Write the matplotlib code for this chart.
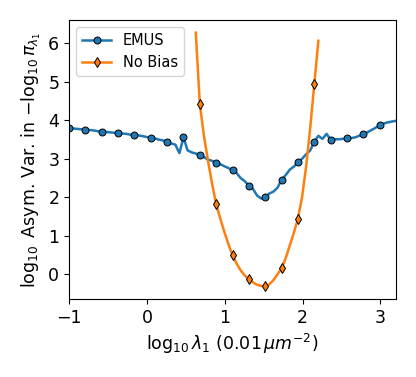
import matplotlib
matplotlib.use("Agg")
import matplotlib.pyplot as plt
import numpy as np

plt.rcParams['font.size'] = 12.5

# x grid in log10(lambda_1), 81 points from -1 to 3.2
log_lambda = np.linspace(-1.0, 3.2, 81)

# EMUS asymptotic variance (log10)
emus = [3.80, 3.79, 3.78, 3.77, 3.76, 3.75, 3.74, 3.72, 3.71, 3.70,
        3.69, 3.68, 3.67, 3.66, 3.65, 3.63, 3.62, 3.61, 3.59, 3.57,
        3.55, 3.53, 3.50, 3.48, 3.45, 3.40, 3.37, 3.15, 3.56, 3.22,
        3.17, 3.14, 3.10, 3.05, 2.98, 2.95, 2.90, 2.86, 2.81, 2.76,
        2.71, 2.63, 2.50, 2.42, 2.30, 2.22, 2.05, 1.97, 2.00, 2.10,
        2.15, 2.25, 2.46, 2.58, 2.72, 2.80, 2.91, 3.00, 3.12, 3.22,
        3.45, 3.60, 3.52, 3.65, 3.50, 3.51, 3.51, 3.52, 3.53, 3.54,
        3.56, 3.60, 3.64, 3.69, 3.75, 3.81, 3.87, 3.92, 3.95, 3.97,
        3.99]

# No Bias curve, only defined on grid points 31..61
nobias_start, nobias_stop = 31, 62
nobias = [6.28, 4.42, 3.60, 2.95, 2.35, 1.82, 1.45, 1.10, 0.78, 0.49,
          0.28, 0.10, -0.03, -0.13, -0.21, -0.27, -0.30, -0.31, -0.26, -0.15,
          0.00, 0.16, 0.42, 0.75, 1.08, 1.45, 2.00, 2.80, 3.80, 4.94,
          6.07]

fig = plt.figure(figsize=(4.16, 3.77), dpi=100)
ax = fig.add_axes([0.166, 0.207, 0.786, 0.740])

ax.plot(log_lambda, emus, color='C0', lw=1.8, marker='o', ms=5,
        mec='k', mew=0.7, markevery=list(range(0, 77, 4)), label='EMUS')
ax.plot(log_lambda[nobias_start:nobias_stop], nobias, color='C1', lw=1.8,
        marker='d', ms=5, mec='k', mew=0.7, markevery=(1, 4),
        label='No Bias')

ax.set_xlim(-1, 3.2)
ax.set_xlabel(r'$\log_{10}\lambda_1\ (0.01\,\mu m^{-2})$')
ax.set_ylabel(r'$\log_{10}$ Asym. Var. in $-\log_{10}\pi_{\lambda_1}$')
ax.legend(loc='upper left', fontsize=10.5)

fig.savefig('out.png', dpi=100)
